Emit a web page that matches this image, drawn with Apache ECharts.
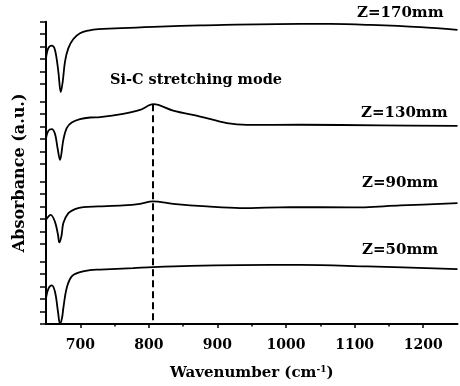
<!DOCTYPE html>
<html>
<head>
<meta charset="utf-8">
<script src="https://cdn.jsdelivr.net/npm/echarts@6/dist/echarts.min.js"></script>
<style>html,body{margin:0;padding:0;background:#fff}#c{width:460px;height:386px}</style>
</head>
<body>
<div id="c"></div>
<script>
// Wavenumber (cm^-1) and absorbance (arbitrary units, stacked offsets)
var z170 = [[650,21.28],[653.4,22.08],[658.3,22.29],[663.1,21.94],[668,20.21],[671.5,18.56],[674.4,19.41],[677.7,21.01],[682.6,22.08],[689.9,22.82],[699.6,23.28],[711.8,23.49],[726.4,23.6],[816.4,23.81],[874.8,23.9],[1020.8,24.02],[1064.6,24.02],[1123,23.94],[1196,23.76],[1250,23.54]];
var z130 = [[650,14.88],[653.4,15.46],[658.3,15.6],[663.1,15.22],[666.8,14.1],[670.4,13.14],[675.3,14.74],[680.2,15.68],[687.5,16.13],[699.6,16.4],[714.2,16.53],[728.8,16.56],[762.4,16.82],[787.2,17.14],[806.6,17.6],[835.4,17.09],[874.8,16.61],[913.8,16.08],[943,15.94],[1020.8,15.95],[1137.6,15.9],[1250,15.86]];
var z90 = [[650,8.34],[656.9,8.74],[663.1,8.18],[667.5,7.14],[669.4,6.53],[672.6,7.06],[675.3,8.08],[682.6,8.88],[692.3,9.2],[704.5,9.36],[726.4,9.41],[762.4,9.49],[787.2,9.62],[805.8,9.81],[835.4,9.62],[884.6,9.41],[933.2,9.28],[1006.2,9.36],[1093.8,9.33],[1166.8,9.49],[1250,9.68]];
var z50 = [[650,2.08],[653.4,2.82],[658.3,3.09],[663.1,2.58],[667.5,0.98],[670.4,0],[673.4,0.5],[675.3,1.28],[680.2,2.88],[687.5,3.81],[699.6,4.16],[714.2,4.32],[728.8,4.36],[777,4.48],[805.8,4.56],[860.2,4.66],[933.2,4.72],[1020.8,4.74],[1118.6,4.61],[1250,4.4]];
var siCLine = [[806,17.6],[806,0]];
var xMajorTicks = [700,800,900,1000,1100,1200];
var xMinorTicks = [750,850,950,1050,1150];
var yTicks = [0,1,2,3,4,5,6.4,7.4,8.4,9.4,10.4,11.4,12.8,13.8,14.8,15.8,16.8,17.8,19.2,20.2,21.2,22.2,23.2,24.2];
var seriesNames = ['Z=170mm','Z=130mm','Z=90mm','Z=50mm'];
var annotation = 'Si-C stretching mode';

var FONT = 'DejaVu Serif';
var chart = echarts.init(document.getElementById('c'), null, {renderer:'canvas'});
function lineSeries(name, data){
  return {name:name, type:'line', data:data, smooth:0.35, symbol:'none',
    lineStyle:{color:'#000', width:1.8}, xAxisIndex:0, yAxisIndex:0, animation:false};
}
chart.setOption({
  animation:false,
  backgroundColor:'#fff',
  grid:{left:46, right:2.5, top:21.7, bottom:61.7, containLabel:false},
  xAxis:[{
    type:'value', min:650, max:1250,
    name:'Wavenumber (cm{sup|-1})', nameLocation:'middle', nameGap:41,
    nameTextStyle:{fontFamily:FONT, fontWeight:'bold', fontSize:15, color:'#000',
      rich:{sup:{fontFamily:FONT, fontWeight:'bold', fontSize:9, color:'#000', verticalAlign:'top', padding:[0,0,8,0]}}},
    axisLine:{lineStyle:{color:'#000', width:2}},
    axisTick:{customValues:xMajorTicks, length:4, lineStyle:{color:'#000', width:1.5}},
    axisLabel:{customValues:xMajorTicks, margin:14, fontFamily:FONT, fontWeight:'bold', fontSize:14, color:'#000',
      formatter:function(v){return String(v);}},
    splitLine:{show:false}
  },{
    type:'value', min:650, max:1250, position:'bottom',
    axisLine:{show:false},
    axisTick:{customValues:xMinorTicks, length:2.5, lineStyle:{color:'#000', width:1.5}},
    axisLabel:{show:false}, splitLine:{show:false}
  }],
  yAxis:{
    type:'value', min:0, max:24.2,
    name:'Absorbance (a.u.)', nameLocation:'middle', nameGap:18,
    nameTextStyle:{fontFamily:FONT, fontWeight:'bold', fontSize:16, color:'#000'},
    axisLine:{show:true, lineStyle:{color:'#000', width:2}},
    axisTick:{show:true, customValues:yTicks, length:6, lineStyle:{color:'#000', width:1.5}},
    axisLabel:{show:false}, splitLine:{show:false}
  },
  series:[
    lineSeries(seriesNames[0], z170),
    lineSeries(seriesNames[1], z130),
    lineSeries(seriesNames[2], z90),
    lineSeries(seriesNames[3], z50),
    {type:'line', data:siCLine, symbol:'none', lineStyle:{color:'#000', width:2, type:[7,4]}, animation:false}
  ],
  graphic:[
    {type:'text', left:357, top:6, style:{text:seriesNames[0], font:'bold 15px "DejaVu Serif"', fill:'#000'}},
    {type:'text', left:361, top:106, style:{text:seriesNames[1], font:'bold 15px "DejaVu Serif"', fill:'#000'}},
    {type:'text', left:362, top:176, style:{text:seriesNames[2], font:'bold 15px "DejaVu Serif"', fill:'#000'}},
    {type:'text', left:362, top:243, style:{text:seriesNames[3], font:'bold 15px "DejaVu Serif"', fill:'#000'}},
    {type:'text', left:110, top:73, style:{text:annotation, font:'bold 14.5px "DejaVu Serif"', fill:'#000'}}
  ]
});
</script>
</body>
</html>
